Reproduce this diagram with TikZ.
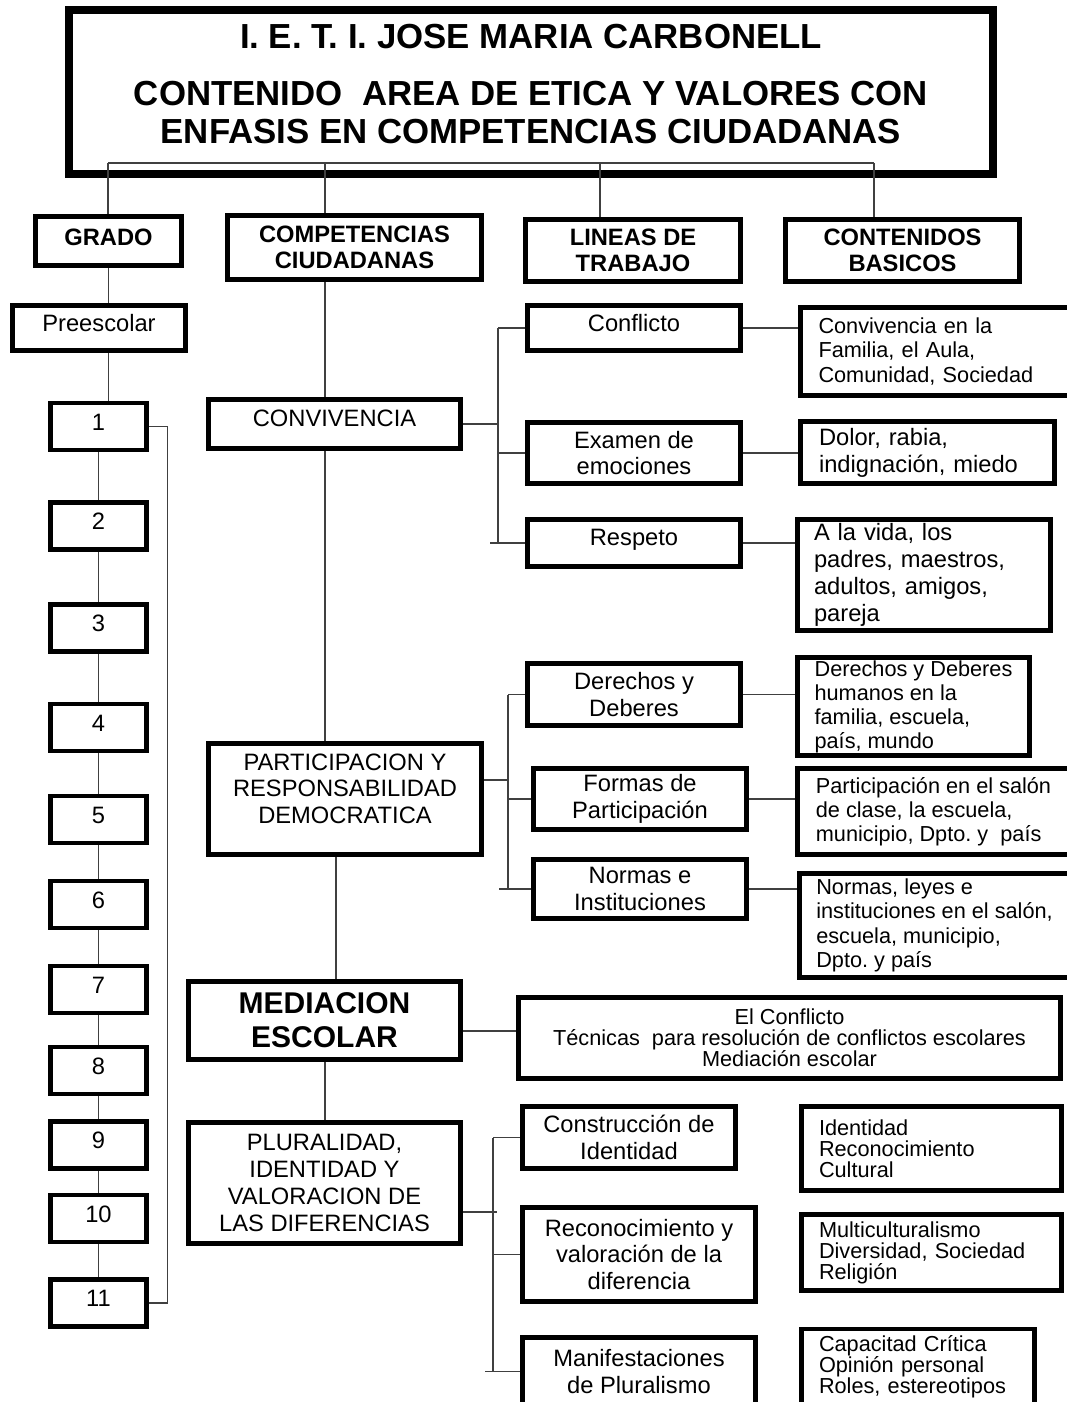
\documentclass[tikz,border=0pt]{standalone}
\usepackage{fontspec}
\setmainfont{Liberation Sans}
\frenchspacing
\newcommand\ftit{\bfseries\fontsize{34.8}{38}\selectfont}
\newcommand\fhd{\bfseries\fontsize{23.7}{26.5}\selectfont}
\newcommand\fmd{\fontsize{23.7}{26.5}\selectfont}
\newcommand\fsm{\fontsize{21.7}{24.3}\selectfont}
\newcommand\fmed{\bfseries\fontsize{30}{34}\selectfont}
\tikzset{
  bx/.style={draw, line width=4.5pt, inner sep=0pt, align=center, font=\fmd},
  hd/.style={bx, line width=5pt, font=\fhd},
  lbx/.style={draw, line width=4.5pt, inner ysep=0pt, align=left, font=\fsm},
  ln/.style={line width=1.4pt, draw=black!75},
}
\begin{document}
\begin{tikzpicture}[x=1pt,y=-1pt]
\useasboundingbox (0,0) rectangle (1066,1402);
%.............................
\node[draw, line width=8pt, minimum width=924pt, minimum height=164pt] (title) at (531,92) {};
\node[font=\ftit, align=center] (ttl) at (531,84.5) {I. E. T. I. JOSE MARIA CARBONELL\\[19pt]CONTENIDO~~AREA DE ETICA Y VALORES CON\\ENFASIS EN COMPETENCIAS CIUDADANAS};
%.............................
\node[hd, minimum width=146pt, minimum height=49pt, text depth=8pt] (grado) at (108.5,241) {GRADO};
\node[hd, minimum width=254pt, minimum height=64pt] (comp) at (354.5,247.5) {COMPETENCIAS\\CIUDADANAS};
\node[hd, minimum width=215pt, minimum height=62pt] (lin) at (633,250.5) {LINEAS DE\\TRABAJO};
\node[hd, minimum width=234pt, minimum height=62pt] (cont) at (902.5,250.5) {CONTENIDOS\\BASICOS};
\coordinate (tb1) at (108,163);
\coordinate (tb2) at (325,163);
\coordinate (tb3) at (600,163);
\coordinate (tb4) at (874,163);
\draw[ln] (tb1) -- (tb4);
\draw[ln] (tb1) -- (tb1 |- grado.north);
\draw[ln] (tb2) -- (tb2 |- comp.north);
\draw[ln] (tb3) -- (tb3 |- lin.north);
\draw[ln] (tb4) -- (tb4 |- cont.north);
%.............................
\node[bx, minimum width=173pt, minimum height=45pt, text depth=10pt] (pre) at (99,328) {Preescolar};
\foreach \n/\y in {1/426.5,2/526,3/628,4/727.5,5/819.5,6/904.5,7/989.5,8/1070.5,9/1145,10/1218.5,11/1303}
  \node[bx, minimum width=96pt, minimum height=47pt, text depth=9pt] (g\n) at (98.5,\y) {\n};
\draw[ln] (grado.south) -- (grado.south |- pre.north);
\draw[ln] (grado.south |- pre.south) -- (grado.south |- g1.north);
\foreach \a/\b in {1/2,2/3,3/4,4/5,5/6,6/7,7/8,8/9,9/10,10/11}
  \draw[ln] (g\a.south) -- (g\b.north);
\draw[ln] (g1.east) -- ++(19,0) |- (g11.east);
%.............................
\node[bx, minimum width=252pt, minimum height=49pt, text depth=12pt] (conv) at (334.5,424) {CONVIVENCIA};
\node[bx, minimum width=273pt, minimum height=111pt, text depth=21pt] (part) at (345,799) {PARTICIPACION Y\\RESPONSABILIDAD\\DEMOCRATICA};
\node[bx, minimum width=272pt, minimum height=78pt, font=\fmed] (med) at (324.5,1020.5) {MEDIACION\\ESCOLAR};
\node[bx, minimum width=272pt, minimum height=121pt, font=\fontsize{23.7}{27}\selectfont] (plur) at (324.5,1183) {PLURALIDAD,\\IDENTIDAD Y\\VALORACION DE\\LAS DIFERENCIAS};
\coordinate (cx) at (325,0);
\coordinate (cx2) at (336,0);
\draw[ln] (cx |- comp.south) -- (cx |- conv.north);
\draw[ln] (cx |- conv.south) -- (cx |- part.north);
\draw[ln] (cx2 |- part.south) -- (cx2 |- med.north);
\draw[ln] (cx |- med.south) -- (cx |- plur.north);
%.............................
\node[bx, minimum width=213pt, minimum height=45pt, text depth=10pt] (confl) at (634,328) {Conflicto};
\node[bx, minimum width=213pt, minimum height=61pt] (exam) at (634,453) {Examen de\\emociones};
\node[bx, minimum width=213pt, minimum height=47pt, text depth=12pt] (resp) at (634,543) {Respeto};
\coordinate (bA) at (498,0);
\coordinate (bAs) at (490,0);
\draw[ln] (conv.east) -- (conv.east -| bA);
\draw[ln] (bA |- confl.west) -- (bA |- resp.west);
\draw[ln] (bA |- confl.west) -- (confl.west);
\draw[ln] (bA |- exam.west) -- (exam.west);
\draw[ln] (bAs |- resp.west) -- (resp.west);
%.............................
\node[lbx, text width=233pt, inner xsep=18pt, minimum height=88pt, font=\fontsize{21.7}{24.5}\selectfont] (cb1) at (935,351.5) {Convivencia en la\\Familia, el Aula,\\Comunidad, Sociedad};
\node[lbx, text width=217pt, inner xsep=18.5pt, minimum height=62pt, font=\fontsize{23.7}{27}\selectfont] (cb2) at (927.5,452.5) {Dolor, rabia,\\indignación, miedo};
\node[lbx, text width=220pt, inner xsep=16.5pt, minimum height=111pt, font=\fontsize{23.7}{27}\selectfont] (cb3) at (924,575) {A la vida, los\\padres, maestros,\\adultos, amigos,\\pareja};
\draw[ln] (confl.east) -- (confl.east -| cb1.west);
\draw[ln] (exam.east) -- (exam.east -| cb2.west);
\draw[ln] (resp.east) -- (resp.east -| cb3.west);
%.............................
\node[bx, minimum width=213pt, minimum height=62pt] (dere) at (634,694.5) {Derechos y\\Deberes};
\node[bx, minimum width=213pt, minimum height=61pt] (form) at (640,799) {Formas de\\Participación};
\node[bx, minimum width=213pt, minimum height=59pt] (norm) at (640,889) {Normas e\\Instituciones};
\coordinate (bB) at (508,0);
\coordinate (bBs) at (499,0);
\coordinate (jB) at (508,780);
\draw[ln] (jB -| part.east) -- (jB);
\draw[ln] (bB |- dere.west) -- (bB |- norm.west);
\draw[ln] (bB |- dere.west) -- (dere.west);
\draw[ln] (bB |- form.west) -- (form.west);
\draw[ln] (bBs |- norm.west) -- (norm.west);
%.............................
\node[lbx, inner xsep=0pt, minimum width=232pt, minimum height=98pt, font=\fontsize{21.7}{24}\selectfont] (cb4) at (913.5,706.5) {Derechos y Deberes\\humanos en la\\familia, escuela,\\país, mundo};
\node[lbx, inner xsep=0pt, minimum width=272pt, minimum height=86pt, font=\fontsize{21.7}{24}\selectfont] (cb5) at (933.5,811.5) {Participación en el salón\\de clase, la escuela,\\municipio, Dpto. y~~país};
\node[lbx, inner xsep=0pt, minimum width=270pt, minimum height=104pt, font=\fontsize{21.7}{24.3}\selectfont] (cb6) at (934.5,925.5) {Normas, leyes e\\instituciones en el salón,\\escuela, municipio,\\Dpto. y país};
\draw[ln] (dere.east) -- (dere.east -| cb4.west);
\draw[ln] (form.east) -- (form.east -| cb5.west);
\draw[ln] (norm.east) -- (norm.east -| cb6.west);
%.............................
\node[bx, minimum width=542pt, minimum height=81pt, font=\fontsize{21.7}{21}\selectfont] (cb7) at (789.5,1038) {El Conflicto\\Técnicas~~para resolución de conflictos escolares\\Mediación escolar};
\coordinate (jM) at (490,1031);
\draw[ln] (jM -| med.east) -- (jM -| cb7.west);
%.............................
\node[bx, minimum width=213pt, minimum height=62pt] (cons) at (629,1137.5) {Construcción de\\Identidad};
\node[bx, minimum width=233pt, minimum height=94pt] (reco) at (639,1254.5) {Reconocimiento y\\valoración de la\\diferencia};
\node[bx, minimum width=233pt, minimum height=68pt] (mani) at (639,1371.5) {Manifestaciones\\de Pluralismo};
\coordinate (bC) at (493,0);
\coordinate (bCs) at (485,0);
\coordinate (jC) at (497,1212);
\draw[ln] (jC -| plur.east) -- (jC);
\draw[ln] (bC |- cons.west) -- (bC |- mani.west);
\draw[ln] (bC |- cons.west) -- (cons.west);
\draw[ln] (bC |- reco.west) -- (reco.west);
\draw[ln] (bCs |- mani.west) -- (mani.west);
%.............................
\node[lbx, text width=225pt, inner xsep=17.5pt, minimum height=84pt, font=\fontsize{21.7}{21}\selectfont] (cb8) at (931.5,1148.5) {Identidad\\Reconocimiento\\Cultural};
\node[lbx, text width=225pt, inner xsep=17.5pt, minimum height=76pt, font=\fontsize{21.7}{21}\selectfont] (cb9) at (931.5,1252.5) {Multiculturalismo\\Diversidad, Sociedad\\Religión};
\node[lbx, text width=198pt, inner xsep=17.5pt, minimum height=76pt, font=\fontsize{21.7}{21}\selectfont] (cb10) at (918,1367) {Capacitad Crítica\\Opinión personal\\Roles, estereotipos};
\end{tikzpicture}
\end{document}
